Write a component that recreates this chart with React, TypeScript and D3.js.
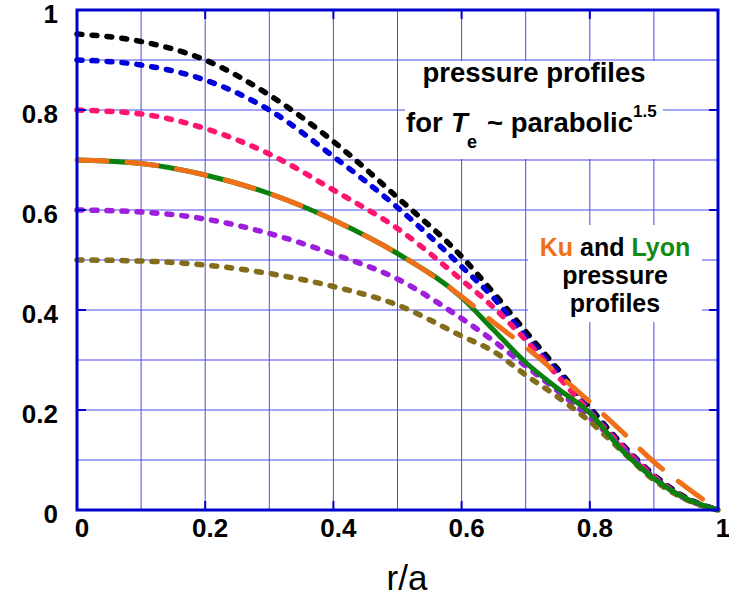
import React from 'react';
import * as d3 from 'd3';

const rPoints = [0, 0.1, 0.2, 0.3, 0.4, 0.5, 0.6, 0.65, 0.7, 0.75, 0.8, 0.85, 0.9, 0.95, 1];

// dotted pressure profiles
const black = [0.952, 0.937, 0.9, 0.83, 0.737, 0.625, 0.507, 0.434, 0.357, 0.282, 0.205, 0.132, 0.07, 0.025, 0];
const blue = [0.9, 0.89, 0.86, 0.8, 0.707, 0.605, 0.487, 0.424, 0.347, 0.276, 0.2, 0.13, 0.068, 0.024, 0];
const pink = [0.8, 0.792, 0.763, 0.712, 0.64, 0.563, 0.46, 0.405, 0.34, 0.268, 0.196, 0.128, 0.067, 0.023, 0];
const purple = [0.6, 0.596, 0.582, 0.553, 0.512, 0.462, 0.383, 0.338, 0.288, 0.238, 0.185, 0.125, 0.065, 0.022, 0];
const olive = [0.5, 0.498, 0.49, 0.473, 0.447, 0.41, 0.348, 0.317, 0.27, 0.226, 0.177, 0.118, 0.06, 0.021, 0];

// Lyon (solid) and Ku (dashed)
const lyon = [0.7, 0.693, 0.67, 0.633, 0.58, 0.513, 0.425, 0.36, 0.295, 0.243, 0.194, 0.12, 0.063, 0.023, 0];
const ku = [0.7, 0.693, 0.67, 0.633, 0.58, 0.513, 0.427, 0.375, 0.326, 0.272, 0.216, 0.157, 0.096, 0.046, 0];

const xTicks = [0, 0.2, 0.4, 0.6, 0.8, 1];
const yTicks = [0, 0.2, 0.4, 0.6, 0.8, 1];
const gridSteps = d3.range(0, 11).map(i => i / 10);

const W = 729;
const H = 599;
const margin = { top: 10, left: 77 };
const pw = 641;
const ph = 500;

const FONT = '"Liberation Sans", Arial, Helvetica, sans-serif';
const FRAME = '#0000cc';
const GRID = '#4b4be6';

const App = () => {
  const x = d3.scaleLinear().domain([0, 1]).range([margin.left, margin.left + pw]);
  const y = d3.scaleLinear().domain([0, 1]).range([margin.top + ph, margin.top]);

  const line = d3.line<number>()
    .x((d, i) => x(rPoints[i]))
    .y(d => y(d))
    .curve(d3.curveMonotoneX);

  const dotted = [
    { vals: black, color: '#000000' },
    { vals: blue, color: '#0000dd' },
    { vals: pink, color: '#ff1470' },
    { vals: purple, color: '#9d1fdc' },
    { vals: olive, color: '#836c1a' },
  ];

  return (
    <svg width={W} height={H} style={{ display: 'block', position: 'absolute', left: 0, top: 0, background: '#fff' }}>
      {/* grid */}
      {gridSteps.map(g => (
        <line key={'gx' + g} x1={x(g)} x2={x(g)} y1={y(0)} y2={y(1)} stroke={GRID} strokeWidth={1} />
      ))}
      {gridSteps.map(g => (
        <line key={'gy' + g} x1={x(0)} x2={x(1)} y1={y(g)} y2={y(g)} stroke={GRID} strokeWidth={1} />
      ))}

      {/* text boxes hide the grid */}
      <rect x={405} y={61} width={258} height={98} fill="#fff" />
      <rect x={528} y={225} width={174} height={97} fill="#fff" />

      {/* curves */}
      {dotted.map((s, i) => (
        <path key={i} d={line(s.vals) || ''} fill="none" stroke={s.color} strokeWidth={5.5}
          strokeDasharray="5 10" strokeLinecap="round" />
      ))}
      <path d={line(lyon) || ''} fill="none" stroke="#0a800f" strokeWidth={5} />
      <path d={line(ku) || ''} fill="none" stroke="#f0701a" strokeWidth={5}
        strokeDasharray="30 20" strokeLinecap="round" />

      {/* major ticks */}
      {yTicks.map(t => (
        <g key={'ty' + t}>
          <line x1={x(0)} x2={x(0) + 9} y1={y(t)} y2={y(t)} stroke={FRAME} strokeWidth={2} />
          <line x1={x(1)} x2={x(1) - 9} y1={y(t)} y2={y(t)} stroke={FRAME} strokeWidth={2} />
        </g>
      ))}
      {xTicks.map(t => (
        <g key={'tx' + t}>
          <line x1={x(t)} x2={x(t)} y1={y(0)} y2={y(0) - 9} stroke={FRAME} strokeWidth={2} />
          <line x1={x(t)} x2={x(t)} y1={y(1)} y2={y(1) + 9} stroke={FRAME} strokeWidth={2} />
        </g>
      ))}

      {/* frame */}
      <rect x={x(0)} y={y(1)} width={pw} height={ph} fill="none" stroke={FRAME} strokeWidth={3} />

      {/* tick labels */}
      {yTicks.map(t => (
        <text key={'ly' + t} x={58} y={y(t) + 13} textAnchor="end" fontFamily={FONT}
          fontWeight="bold" fontSize={26} fill="#000">{d3.format('~g')(t)}</text>
      ))}
      {xTicks.map(t => (
        <text key={'lx' + t} x={x(t) + 5} y={537} textAnchor="middle" fontFamily={FONT}
          fontWeight="bold" fontSize={26} fill="#000">{d3.format('~g')(t)}</text>
      ))}

      {/* axis title */}
      <text x={407} y={590} textAnchor="middle" fontFamily={FONT} fontSize={35} fill="#000">r/a</text>

      {/* annotation 1 */}
      <g fontFamily={FONT} fontWeight="bold" fill="#000">
        <text x={534} y={82} textAnchor="middle" fontSize={27.5}>pressure profiles</text>
        <text x={406} y={132} fontSize={27.5}>for</text>
        <text x={451} y={132} fontSize={27.5} fontStyle="italic">T</text>
        <text x={467} y={148} fontSize={18}>e</text>
        <text x={487} y={132} fontSize={27.5}>~ parabolic</text>
        <text x={633} y={117} fontSize={17}>1.5</text>
      </g>

      {/* annotation 2 */}
      <g fontFamily={FONT} fontWeight="bold" fontSize={25} textAnchor="middle" fill="#000">
        <text x={615} y={256}>
          <tspan fill="#f07018">Ku</tspan>
          <tspan> and </tspan>
          <tspan fill="#138a13">Lyon</tspan>
        </text>
        <text x={615} y={284}>pressure</text>
        <text x={615} y={312}>profiles</text>
      </g>
    </svg>
  );
};

export default App;
